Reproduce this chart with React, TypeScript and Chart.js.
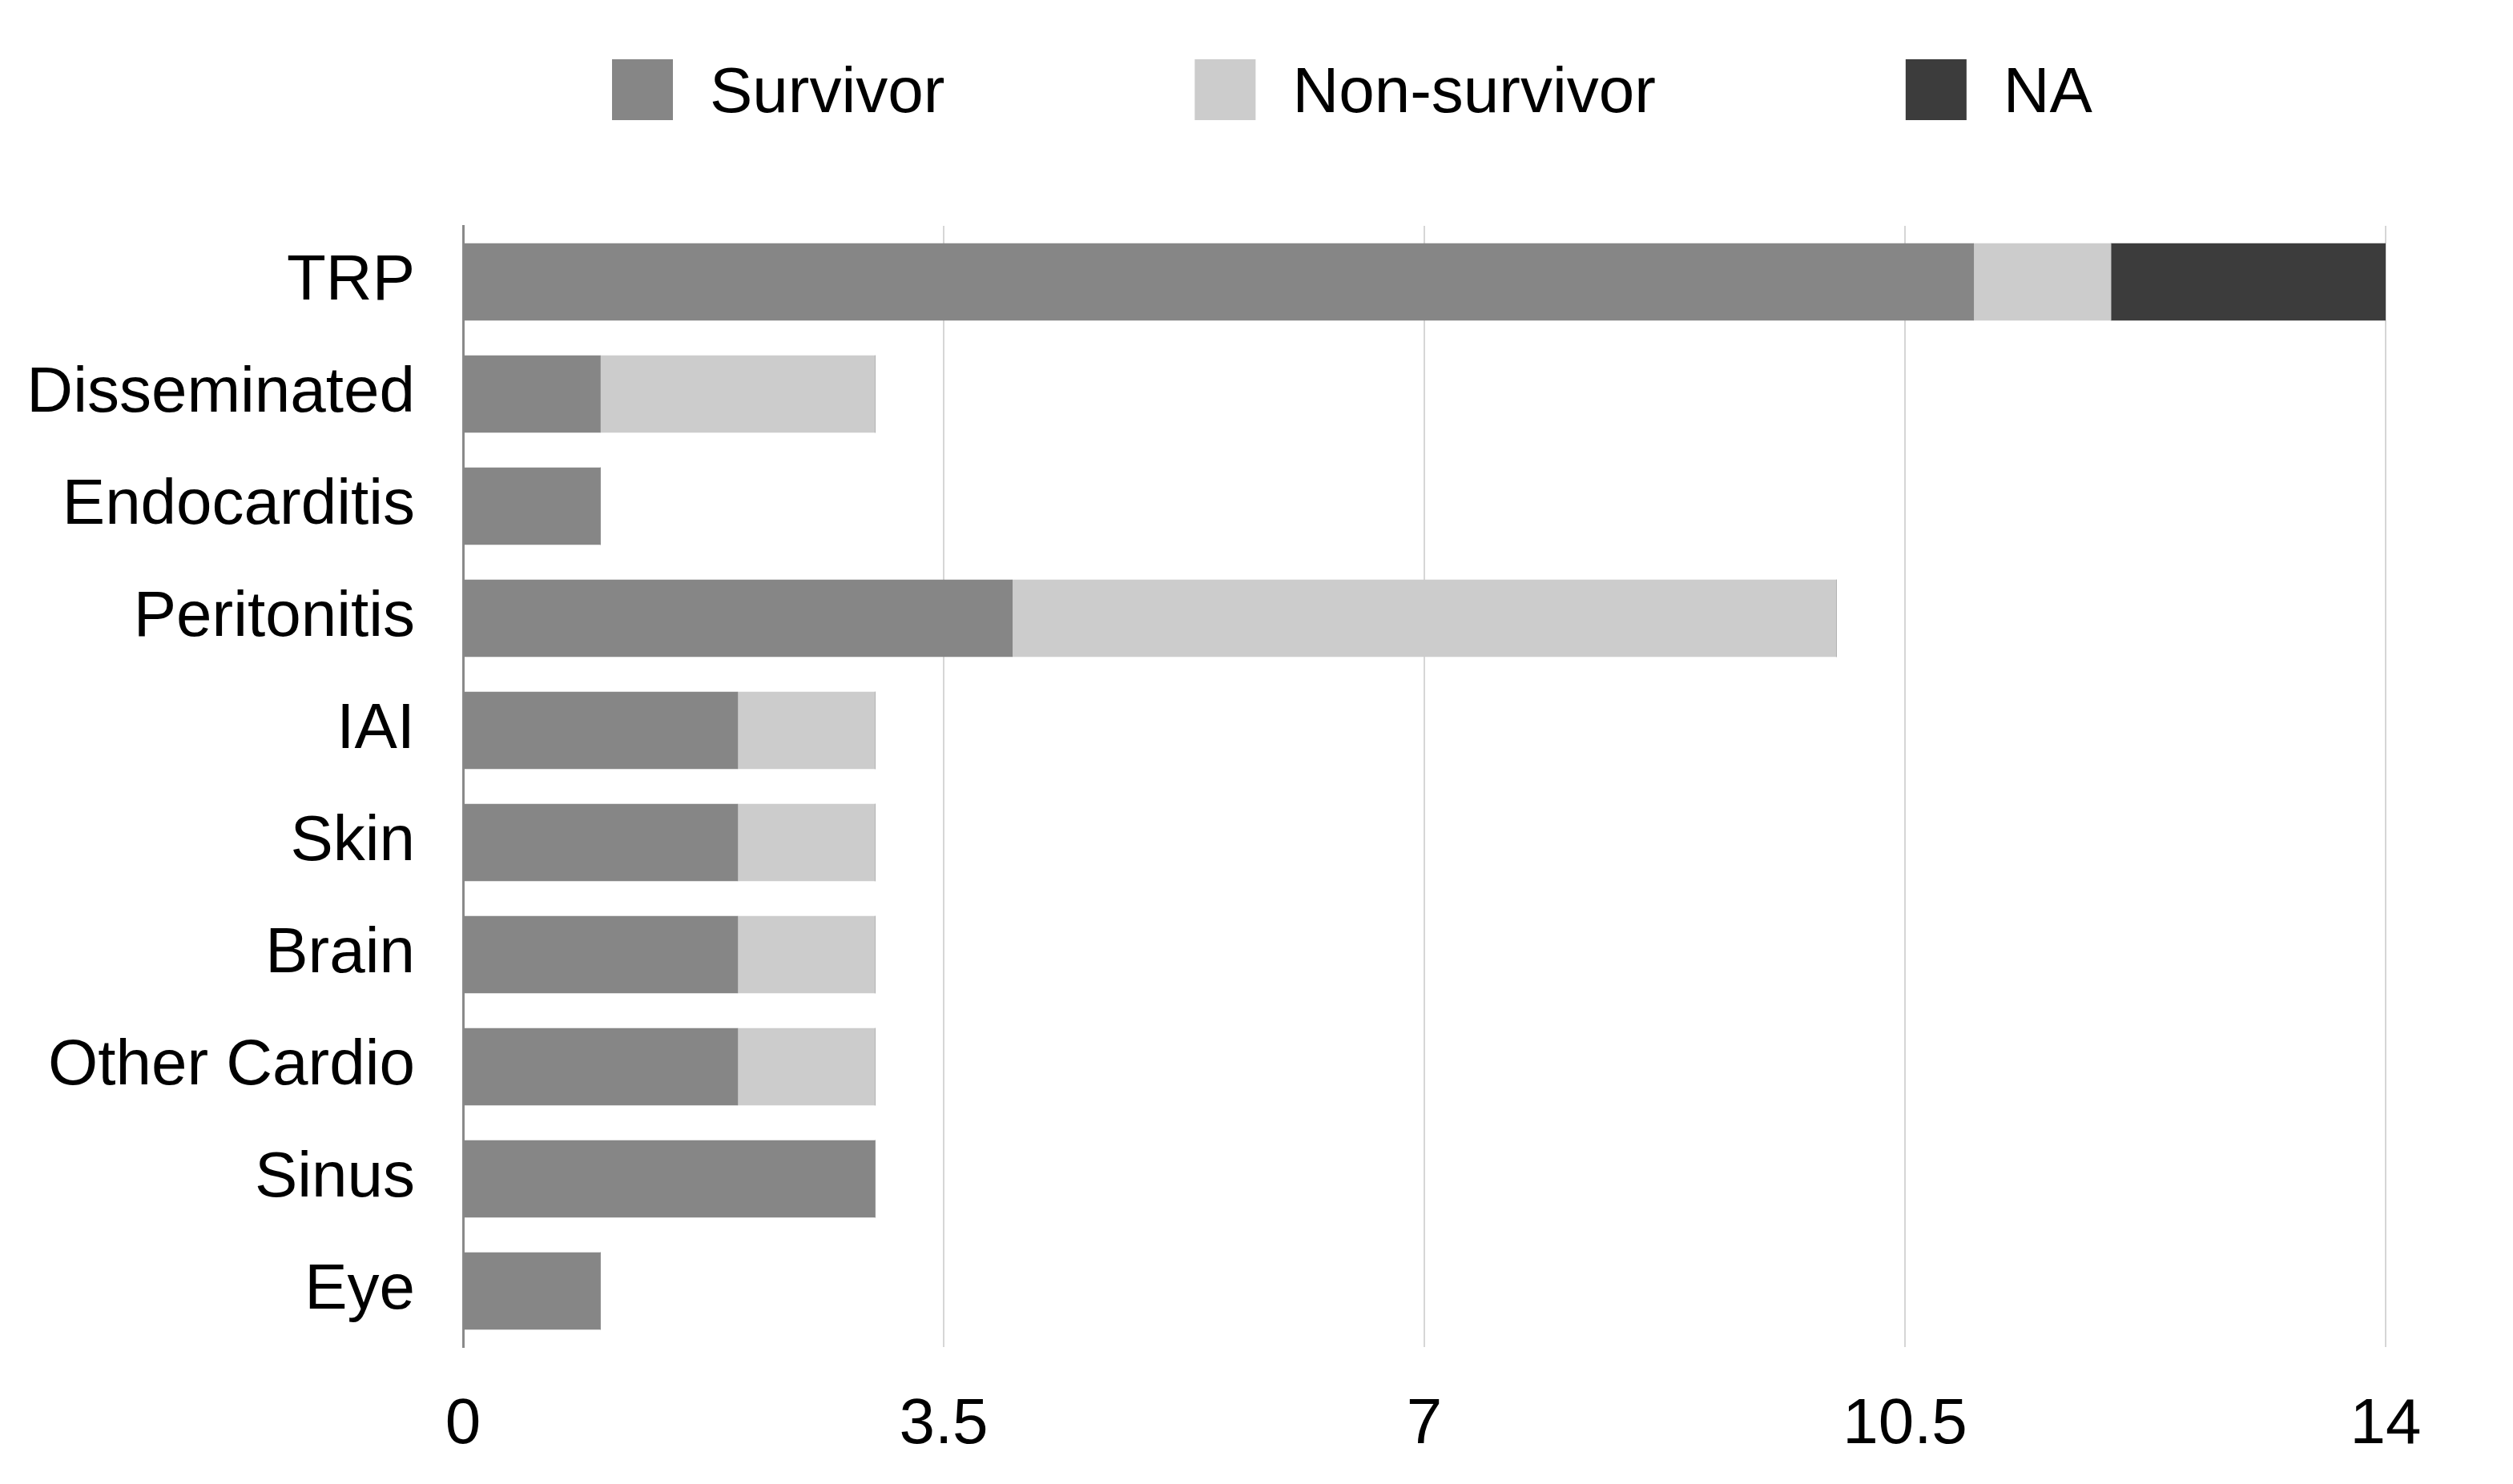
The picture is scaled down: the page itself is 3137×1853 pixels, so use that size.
import React, { useEffect, useRef } from "react";
import { Chart, registerables } from "chart.js";

Chart.register(...registerables);

const categories = ["TRP", "Disseminated", "Endocarditis", "Peritonitis", "IAI", "Skin", "Brain", "Other Cardio", "Sinus", "Eye"];
const survivor = [11, 1, 1, 4, 2, 2, 2, 2, 3, 1];
const nonSurvivor = [1, 2, 0, 6, 1, 1, 1, 1, 0, 0];
const na = [2, 0, 0, 0, 0, 0, 0, 0, 0, 0];
const seriesLabels = ["Survivor", "Non-survivor", "NA"];
const seriesColors = ["#868686", "#cccccc", "#3c3c3c"];
const xTicks = [0, 3.5, 7, 10.5, 14];

const FONT = "'Liberation Sans', Arial, Helvetica, sans-serif";

const legendPlugin = {
  id: "customLegend",
  afterDraw(chart: any) {
    const ctx = chart.ctx;
    ctx.save();
    ctx.font = `80px ${FONT}`;
    ctx.textBaseline = "middle";
    ctx.textAlign = "left";
    let x = 764;
    const cy = 112;
    const box = 76;
    chart.data.datasets.forEach((ds: any) => {
      ctx.fillStyle = ds.backgroundColor;
      ctx.fillRect(x, cy - box / 2, box, box);
      const tx = x + box + 46;
      ctx.fillStyle = "#000";
      ctx.fillText(ds.label, tx, cy + 6);
      x = tx + ctx.measureText(ds.label).width + 312;
    });
    ctx.restore();
  },
};

export default function App() {
  const ref = useRef<HTMLCanvasElement>(null);
  useEffect(() => {
    if (!ref.current) return;
    const chart = new Chart(ref.current, {
      type: "bar",
      data: {
        labels: categories,
        datasets: [
          { label: seriesLabels[0], data: survivor, backgroundColor: seriesColors[0] },
          { label: seriesLabels[1], data: nonSurvivor, backgroundColor: seriesColors[1] },
          { label: seriesLabels[2], data: na, backgroundColor: seriesColors[2] },
        ],
      },
      options: {
        indexAxis: "y",
        animation: false,
        responsive: false,
        maintainAspectRatio: false,
        layout: { padding: { left: 0, top: 282, right: 159, bottom: 0 } },
        datasets: { bar: { barThickness: 96, borderWidth: 0 } },
        plugins: { legend: { display: false }, tooltip: { enabled: false } },
        scales: {
          x: {
            stacked: true,
            min: 0,
            max: 14,
            afterBuildTicks: (scale: any) => {
              scale.ticks = xTicks.map((v) => ({ value: v }));
            },
            afterFit: (scale: any) => {
              scale.height = 171;
            },
            grid: { color: "#d6d6d6", lineWidth: 2, drawTicks: false },
            border: { display: false },
            ticks: {
              padding: 50,
              color: "#000",
              font: { family: FONT, size: 80 },
              maxRotation: 0,
            },
          },
          y: {
            stacked: true,
            afterFit: (scale: any) => {
              scale.width = 578;
            },
            grid: { display: false, drawTicks: false },
            border: { display: true, color: "#8a8a8a", width: 3 },
            ticks: {
              padding: 60,
              color: "#000",
              font: { family: FONT, size: 80 },
            },
          },
        },
      },
      plugins: [legendPlugin],
    });
    return () => chart.destroy();
  }, []);
  return (
    <div style={{ position: "fixed", left: 0, top: 0, width: 3137, height: 1853, background: "#fff" }}>
      <canvas ref={ref} width={3137} height={1853} style={{ width: 3137, height: 1853 }} />
    </div>
  );
}
